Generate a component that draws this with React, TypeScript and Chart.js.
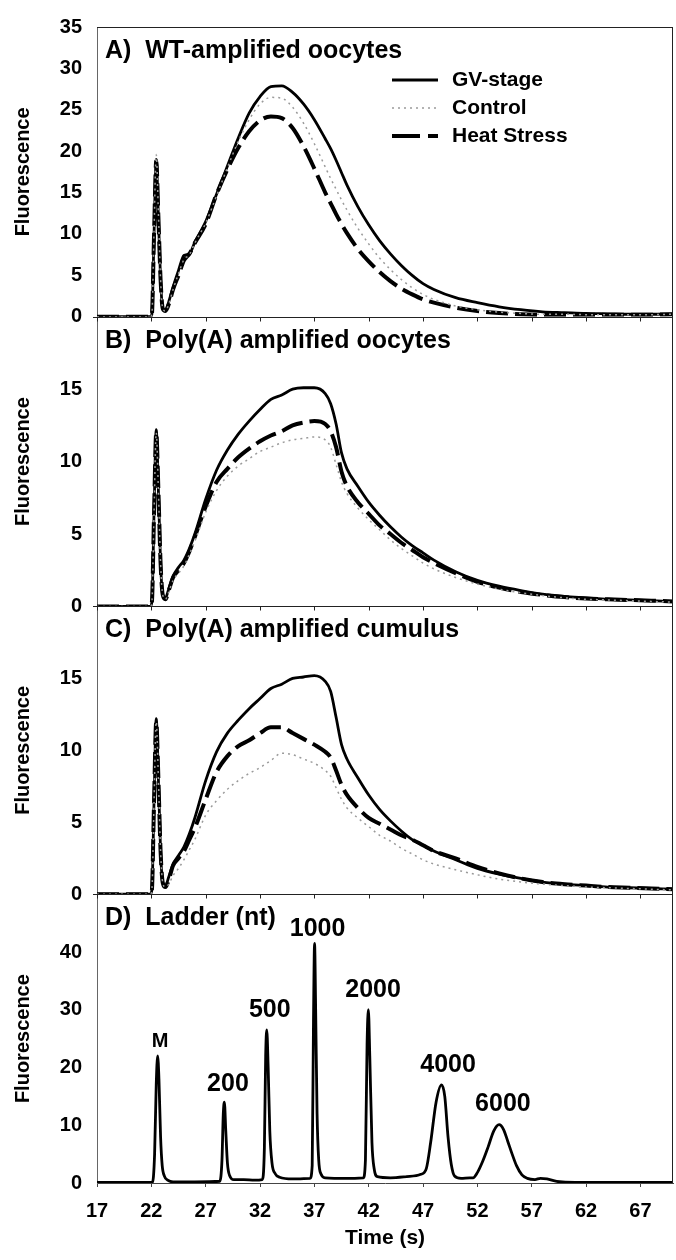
import React, { useEffect, useRef } from 'react';
import { Chart, registerables } from 'chart.js';

Chart.register(...registerables);

const FONT = '"Liberation Sans", Arial, Helvetica, sans-serif';

// Time axis (s) shared by the smear panels A-C
const T_SMEAR = [17, 21.9, 22.05, 22.25, 22.45, 22.65, 22.85, 23.05, 23.3, 23.6, 24, 24.5, 25, 25.5, 26, 27, 28, 29, 30, 31, 32, 33, 34, 35, 36, 37, 38, 38.5, 39, 39.5, 40, 41, 42, 43, 44, 45, 46, 47, 48, 50, 52, 54, 56, 58, 60, 62, 64, 66, 68, 70];

// Panel A: WT-amplified oocytes
const A_GV = [0, 0, 0.3, 10, 19, 12, 4.5, 1.0, 0.8, 1.8, 3.6, 5.6, 7.4, 7.6, 9.0, 11.5, 14.8, 18.2, 21.6, 24.6, 26.6, 27.8, 27.9, 27.1, 25.7, 23.8, 21.5, 20.3, 18.9, 17.4, 15.9, 13.3, 11.1, 9.2, 7.6, 6.2, 5.0, 4.0, 3.3, 2.3, 1.7, 1.2, 0.85, 0.6, 0.5, 0.4, 0.35, 0.3, 0.3, 0.35];
const A_CTRL = [0, 0, 0.3, 10.5, 19.6, 12.5, 4.5, 1.0, 0.7, 1.5, 3.3, 5.2, 6.9, 7.5, 8.9, 11.3, 14.6, 18.0, 21.2, 23.8, 25.7, 26.5, 26.4, 25.3, 23.4, 20.9, 18.1, 16.7, 15.4, 14.1, 12.9, 10.7, 8.8, 7.1, 5.7, 4.5, 3.5, 2.7, 2.1, 1.3, 0.85, 0.55, 0.4, 0.3, 0.3, 0.25, 0.25, 0.25, 0.25, 0.3];
const A_HS = [0, 0, 0.3, 10, 18.8, 12, 4.5, 1.0, 0.7, 1.5, 3.3, 5.0, 6.8, 7.6, 8.9, 11.2, 14.8, 17.8, 20.4, 22.4, 23.7, 24.2, 24.0, 22.8, 20.6, 17.9, 15.0, 13.7, 12.4, 11.2, 10.1, 8.2, 6.7, 5.4, 4.3, 3.4, 2.7, 2.1, 1.7, 1.1, 0.7, 0.45, 0.3, 0.25, 0.25, 0.25, 0.25, 0.25, 0.25, 0.3];

// Panel B: Poly(A) amplified oocytes
const B_GV = [0, 0, 0.3, 6.5, 12.2, 8, 3, 0.8, 0.6, 1.2, 2.1, 2.7, 3.2, 4.0, 5.0, 7.4, 9.4, 10.8, 11.9, 12.8, 13.6, 14.3, 14.6, 15.0, 15.1, 15.1, 14.7, 14.0, 12.6, 10.6, 9.5, 8.3, 7.2, 6.3, 5.5, 4.8, 4.2, 3.7, 3.2, 2.4, 1.8, 1.4, 1.1, 0.85, 0.7, 0.6, 0.5, 0.45, 0.4, 0.35];
const B_CTRL = [0, 0, 0.3, 6.5, 12.0, 8, 3, 0.8, 0.5, 1.0, 1.8, 2.3, 2.8, 3.6, 4.5, 6.5, 8.0, 9.0, 9.7, 10.2, 10.7, 11.0, 11.3, 11.5, 11.6, 11.7, 11.5, 11.0, 9.8, 8.6, 7.8, 6.8, 6.0, 5.3, 4.6, 4.0, 3.5, 3.0, 2.6, 2.0, 1.55, 1.2, 0.95, 0.75, 0.6, 0.5, 0.45, 0.4, 0.35, 0.3];
const B_HS = [0, 0, 0.3, 6.5, 12.0, 8, 3, 0.8, 0.5, 1.1, 2.0, 2.5, 3.0, 3.8, 4.8, 6.9, 8.6, 9.5, 10.3, 10.9, 11.4, 11.8, 12.1, 12.5, 12.7, 12.8, 12.6, 12.1, 11.0, 9.3, 8.3, 7.2, 6.4, 5.6, 5.0, 4.4, 3.9, 3.4, 3.0, 2.3, 1.7, 1.3, 1.0, 0.8, 0.65, 0.55, 0.5, 0.45, 0.4, 0.35];

// Panel C: Poly(A) amplified cumulus
const C_GV = [0, 0, 0.3, 6.5, 12.2, 8, 3, 0.8, 0.6, 1.2, 2.1, 2.7, 3.3, 4.2, 5.3, 7.9, 9.9, 11.2, 12.1, 12.9, 13.6, 14.3, 14.6, 15.0, 15.1, 15.2, 14.8, 14.1, 12.3, 10.4, 9.4, 8.1, 6.9, 5.9, 5.1, 4.4, 3.8, 3.4, 3.0, 2.4, 1.8, 1.4, 1.1, 0.85, 0.7, 0.6, 0.5, 0.45, 0.4, 0.35];
const C_CTRL = [0, 0, 0.3, 6.5, 12.0, 8, 3, 0.8, 0.5, 0.7, 1.3, 1.8, 2.4, 3.1, 3.8, 5.5, 6.5, 7.3, 7.9, 8.4, 8.8, 9.3, 9.8, 9.7, 9.4, 9.1, 8.6, 8.2, 7.4, 6.6, 6.0, 5.3, 4.7, 4.1, 3.7, 3.2, 2.8, 2.4, 2.1, 1.7, 1.35, 1.05, 0.85, 0.7, 0.6, 0.5, 0.45, 0.4, 0.35, 0.3];
const C_HS = [0, 0, 0.3, 6.5, 12.0, 8, 3, 0.8, 0.5, 1.0, 2.0, 2.5, 3.0, 3.8, 4.6, 6.6, 8.5, 9.6, 10.3, 10.7, 11.2, 11.6, 11.6, 11.2, 10.8, 10.4, 9.9, 9.5, 8.6, 7.6, 6.9, 6.0, 5.3, 4.9, 4.5, 4.1, 3.8, 3.4, 3.0, 2.5, 1.9, 1.45, 1.1, 0.85, 0.7, 0.6, 0.5, 0.45, 0.4, 0.35];

// Panel D: ladder trace
const T_LADDER = [17, 21, 22.1, 22.3, 22.45, 22.58, 22.7, 22.85, 23.0, 23.2, 23.5, 24, 26, 28.3, 28.5, 28.62, 28.72, 28.85, 29.0, 29.2, 29.6, 30.5, 31.5, 32.2, 32.4, 32.52, 32.62, 32.75, 32.9, 33.1, 33.4, 33.8, 35, 36.6, 36.8, 36.92, 37.02, 37.12, 37.25, 37.4, 37.6, 38, 40, 41.5, 41.7, 41.85, 41.97, 42.1, 42.3, 42.5, 42.8, 44, 45.5, 46.8, 47.3, 47.7, 48.2, 48.7, 49.0, 49.3, 49.6, 49.9, 50.5, 51.3, 51.6, 52.0, 52.5, 53.0, 53.5, 54.0, 54.4, 54.8, 55.2, 55.6, 56.1, 56.6, 57.3, 57.8, 58.4, 59.3, 61, 70];
const LADDER = [0.1, 0.1, 0.1, 5, 17, 22, 18, 8, 3, 1.2, 0.5, 0.2, 0.2, 0.3, 4, 12, 14, 9, 3.5, 1.3, 0.6, 0.6, 0.5, 0.6, 6, 22, 26.5, 20, 9, 3.5, 1.6, 1.0, 0.7, 0.8, 3, 28, 41.5, 30, 12, 4, 1.6, 0.9, 0.8, 0.9, 4, 24, 30, 22, 7, 2.5, 1.1, 0.9, 1.1, 1.5, 2.5, 7, 14, 17, 15, 8, 3.2, 1.2, 0.8, 0.9, 0.9, 1.8, 3.8, 6.3, 9.0, 10.1, 9.3, 7.2, 5.0, 3.0, 1.4, 0.8, 0.6, 0.8, 0.7, 0.3, 0.1, 0.1];

const LADDER_LABELS = ['M', '200', '500', '1000', '2000', '4000', '6000'];
const LADDER_LABEL_T = [22.8, 29.05, 32.9, 37.3, 42.4, 49.3, 54.35];
const LADDER_LABEL_V = [24.5, 17.1, 30.0, 44.0, 33.4, 20.5, 13.7];

const X_TICKS = [17, 22, 27, 32, 37, 42, 47, 52, 57, 62, 67];
const Y_TICKS_A = [0, 5, 10, 15, 20, 25, 30, 35];
const Y_TICKS_BC = [0, 5, 10, 15];
const Y_TICKS_D = [0, 10, 20, 30, 40];

const PANEL_TITLES = ['A)  WT-amplified oocytes', 'B)  Poly(A) amplified oocytes', 'C)  Poly(A) amplified cumulus', 'D)  Ladder (nt)'];
const SERIES_NAMES = ['GV-stage', 'Control', 'Heat Stress'];

const STYLES = [
  { borderColor: '#000000', borderWidth: 2.8, borderDash: [] as number[] },
  { borderColor: '#9a9a9a', borderWidth: 1.5, borderDash: [2, 4] },
  { borderColor: '#000000', borderWidth: 4, borderDash: [22, 7] },
];

const toXY = (xs: number[], ys: number[]) => xs.map((x, i) => ({ x, y: ys[i] }));

const panelPlugin = {
  id: 'panelDecor',
  afterDraw(chart: any) {
    const { ctx, chartArea, scales } = chart;
    const { left, right, top, bottom } = chartArea;
    const x = scales.x;
    ctx.save();
    ctx.strokeStyle = '#222';
    ctx.lineWidth = 1;
    ctx.setLineDash([]);
    ctx.beginPath();
    ctx.moveTo(left, top + 0.5);
    ctx.lineTo(right, top + 0.5);
    ctx.moveTo(right - 0.5, top);
    ctx.lineTo(right - 0.5, bottom);
    ['yA', 'yB', 'yC'].forEach((id) => {
      const y = Math.round(scales[id].getPixelForValue(0)) + 0.5;
      ctx.moveTo(left - 4, y);
      ctx.lineTo(right, y);
      X_TICKS.forEach((v) => {
        const px = Math.round(x.getPixelForValue(v)) + 0.5;
        ctx.moveTo(px, y);
        ctx.lineTo(px, y + 4);
      });
    });
    ctx.stroke();

    ctx.fillStyle = '#000';
    ctx.textBaseline = 'middle';
    ctx.textAlign = 'left';
    ctx.font = `bold 25px ${FONT}`;
    ['yA', 'yB', 'yC', 'yD'].forEach((id, i) => {
      ctx.fillText(PANEL_TITLES[i], left + 8, scales[id].top + 24);
    });

    // legend inside panel A
    const lx0 = left + 295;
    const lx1 = left + 341;
    const yA = scales.yA;
    ctx.font = `bold 21px ${FONT}`;
    SERIES_NAMES.forEach((name, i) => {
      const ly = yA.top + 53 + i * 28;
      const st = STYLES[i];
      ctx.strokeStyle = st.borderColor;
      ctx.lineWidth = st.borderWidth;
      ctx.setLineDash(i === 2 ? [28, 8] : st.borderDash);
      ctx.beginPath();
      ctx.moveTo(lx0, ly);
      ctx.lineTo(lx1, ly);
      ctx.stroke();
      ctx.setLineDash([]);
      ctx.fillText(name, lx1 + 14, ly);
    });

    // ladder size labels
    const yD = scales.yD;
    ctx.textAlign = 'center';
    LADDER_LABELS.forEach((lab, i) => {
      ctx.font = `bold ${lab === 'M' ? 20 : 25}px ${FONT}`;
      ctx.fillText(lab, x.getPixelForValue(LADDER_LABEL_T[i]), yD.getPixelForValue(LADDER_LABEL_V[i]));
    });
    ctx.restore();
  },
};

const tickFont = { family: FONT, size: 20, weight: 'bold' as const };

const yScale = (min: number, max: number, ticks: number[], weight: number) => ({
  type: 'linear' as const,
  position: 'left' as const,
  stack: 'panels',
  stackWeight: weight,
  min,
  max,
  afterBuildTicks: (s: any) => {
    s.ticks = ticks.map((v) => ({ value: v }));
  },
  afterFit: (s: any) => {
    s.width = 97;
  },
  grid: { display: false, drawTicks: false },
  border: { display: true, color: '#666', width: 1 },
  ticks: { font: tickFont, color: '#000', padding: 15, autoSkip: false },
  title: {
    display: true,
    text: 'Fluorescence',
    color: '#000',
    font: { family: FONT, size: 20, weight: 'bold' as const },
    padding: { top: 11, bottom: 0 },
  },
});

export default function App() {
  const ref = useRef<HTMLCanvasElement>(null);

  useEffect(() => {
    if (!ref.current) return;
    const panels: [string, number[][]][] = [
      ['yA', [A_GV, A_CTRL, A_HS]],
      ['yB', [B_GV, B_CTRL, B_HS]],
      ['yC', [C_GV, C_CTRL, C_HS]],
    ];
    const datasets: any[] = [];
    panels.forEach(([axis, series]) => {
      [1, 2, 0].forEach((k) => {
        datasets.push({
          label: SERIES_NAMES[k],
          data: toXY(T_SMEAR, series[k]),
          yAxisID: axis,
          xAxisID: 'x',
          borderColor: STYLES[k].borderColor,
          borderWidth: STYLES[k].borderWidth,
          borderDash: STYLES[k].borderDash,
          pointRadius: 0,
          fill: false,
          cubicInterpolationMode: 'monotone',
        });
      });
    });
    datasets.push({
      label: 'Ladder',
      data: toXY(T_LADDER, LADDER),
      yAxisID: 'yD',
      xAxisID: 'x',
      borderColor: '#000',
      borderWidth: 2.8,
      pointRadius: 0,
      fill: false,
      cubicInterpolationMode: 'monotone',
    });

    const chart = new Chart(ref.current, {
      type: 'line',
      data: { datasets },
      options: {
        responsive: false,
        animation: false,
        devicePixelRatio: 1,
        layout: { padding: { top: 18, right: 3, left: 0, bottom: 0 } },
        plugins: { legend: { display: false }, tooltip: { enabled: false } },
        scales: {
          x: {
            type: 'linear',
            position: 'bottom',
            min: 17,
            max: 70,
            afterBuildTicks: (s: any) => {
              s.ticks = X_TICKS.map((v) => ({ value: v }));
            },
            afterFit: (s: any) => {
              s.height = 77;
            },
            grid: { display: true, drawOnChartArea: false, drawTicks: true, tickLength: 4, color: '#444' },
            border: { display: true, color: '#444', width: 1 },
            ticks: { font: tickFont, color: '#000', padding: 12, autoSkip: false, maxRotation: 0 },
            title: {
              display: true,
              text: 'Time (s)',
              color: '#000',
              font: { family: FONT, size: 21, weight: 'bold' },
              padding: { top: 0, bottom: 9 },
            },
          },
          yD: yScale(0, 50, Y_TICKS_D, 291),
          yC: yScale(0, 20, Y_TICKS_BC, 290),
          yB: yScale(0, 20, Y_TICKS_BC, 292),
          yA: yScale(0, 35, Y_TICKS_A, 292),
        } as any,
      },
      plugins: [panelPlugin],
    });
    return () => chart.destroy();
  }, []);

  return (
    <div style={{ position: 'absolute', left: 0, top: 0, width: 676, height: 1260, background: '#fff' }}>
      <canvas ref={ref} width={676} height={1260} style={{ display: 'block' }} />
    </div>
  );
}
